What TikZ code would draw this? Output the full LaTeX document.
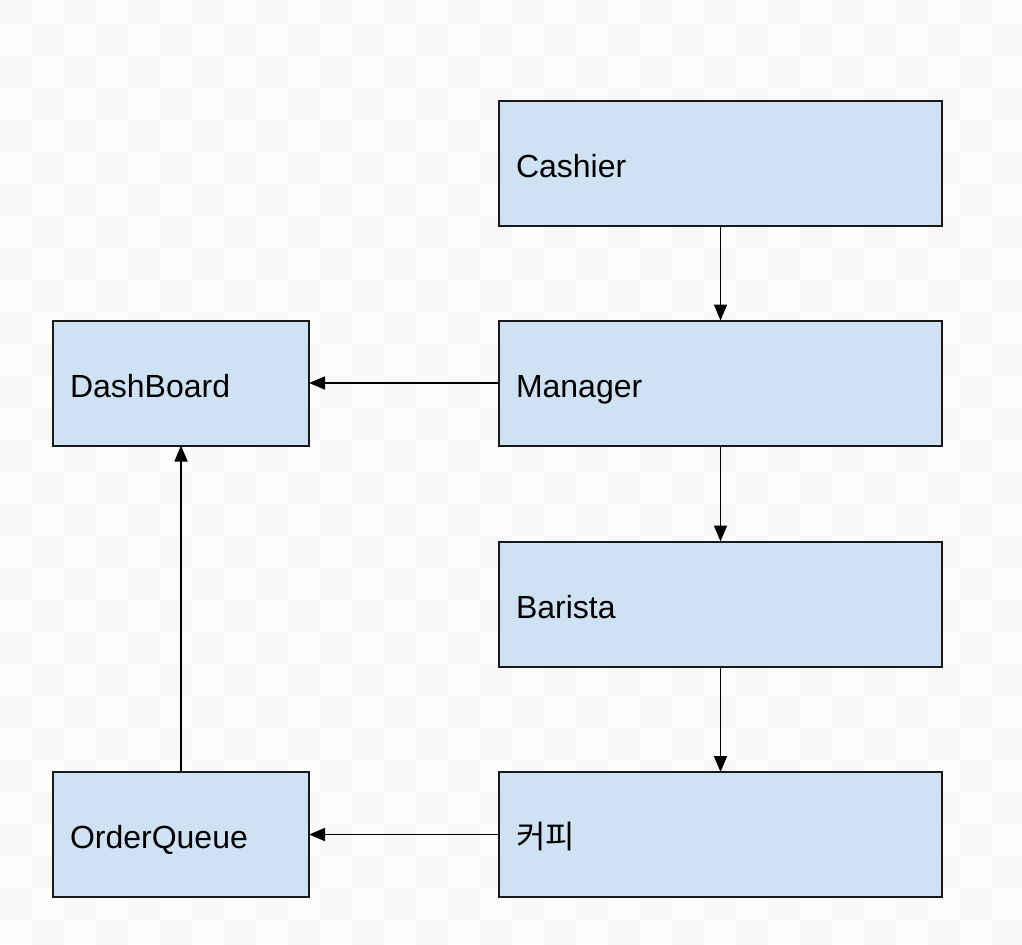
\documentclass[tikz,border=0pt]{standalone}
\usepackage{fontspec}
\setmainfont{Liberation Sans}
\newfontfamily\cjk{Noto Sans CJK KR}
\usetikzlibrary{arrows.meta}
\definecolor{boxblue}{HTML}{CFE2F3}
\definecolor{checkgray}{HTML}{F7F7F7}
\tikzset{
  block/.style={draw=black!90, fill=boxblue, line width=1pt, outer sep=0pt,
    inner xsep=8.5pt, minimum height=62.5pt, align=left,
    text height=14pt, text depth=0pt, font=\fontsize{16}{19}\selectfont},
  wide/.style={block, text width=204.5pt},
  narrow/.style={block, text width=111pt},
  flow/.style={line width=0.8pt, -{Triangle[length=8pt,width=6.5pt]}}
}
\begin{document}
\begin{tikzpicture}[x=0.5pt,y=-0.5pt]
  \useasboundingbox (0,0) rectangle (1022,944);
  % checkered backdrop
  \begin{scope}
    \clip (0,0) rectangle (1022,944);
    \fill[white!99!black] (0,0) rectangle (1022,944);
    \foreach \i in {0,...,31}
      \foreach \j in {0,...,29}{
        \pgfmathtruncatemacro\k{mod(\i+\j,2)}
        \ifnum\k=0
          \fill[checkgray] (32*\i,-8+32*\j) rectangle ++(32,32);
        \fi
      }
  \end{scope}
  % boxes
  \node[wide] (cashier) at (720.5,163.5) {Cashier};
  \node[wide] (manager) at (720.5,383) {Manager};
  \node[wide] (barista) at (720.5,604) {Barista};
  \node[wide] (coffee) at (720.5,834.5) {\cjk 커피};
  \node[narrow] (dashboard) at (181,383) {DashBoard};
  \node[narrow] (orderqueue) at (181,834.5) {OrderQueue};
  % arrows
  \draw[flow] (cashier) -- (manager);
  \draw[flow] (manager) -- (barista);
  \draw[flow] (barista) -- (coffee);
  \draw[flow] (manager) -- (dashboard);
  \draw[flow] (coffee) -- (orderqueue);
  \draw[flow] (orderqueue) -- (dashboard);
\end{tikzpicture}
\end{document}
